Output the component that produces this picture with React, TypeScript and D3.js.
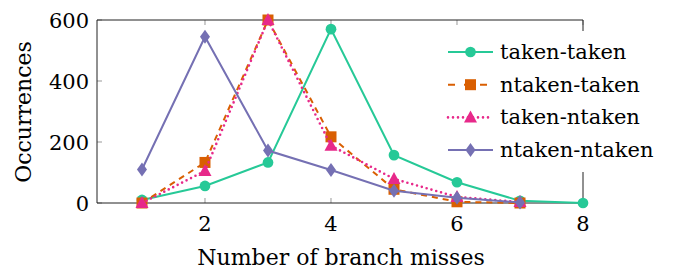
import React, { useEffect, useRef } from 'react';
import * as d3 from 'd3';

const misses = [1, 2, 3, 4, 5, 6, 7, 8];
const takenTaken = [10, 56, 133, 570, 157, 68, 7, 0];
const ntakenTaken = [0, 133, 600, 217, 45, 4, 0];
const takenNtaken = [0, 105, 600, 188, 79, 20, 3];
const ntakenNtaken = [110, 545, 172, 108, 40, 17, 2];
const seriesNames = ['taken-taken', 'ntaken-taken', 'taken-ntaken', 'ntaken-ntaken'];
const xTicks = [2, 4, 6, 8];
const yTicks = [0, 200, 400, 600];

const App = () => {
  const ref = useRef<SVGSVGElement>(null);

  useEffect(() => {
    const svg = d3.select(ref.current);
    svg.selectAll('*').remove();
    const font = "'DejaVu Serif', serif";

    const left = 97, right = 583, top = 20, bottom = 203;
    const x = d3.scaleLinear().domain([0.286, 8]).range([left, right]);
    const y = d3.scaleLinear().domain([0, 600]).range([bottom, top]);

    const styles = [
      { color: '#26c997', dash: null, marker: 'circle' },
      { color: '#d95f02', dash: '6,5', marker: 'square' },
      { color: '#e7298a', dash: '0,5', marker: 'triangle' },
      { color: '#7570b3', dash: null, marker: 'diamond' },
    ];
    const data = [takenTaken, ntakenTaken, takenNtaken, ntakenNtaken];

    const markerPath = (m: string) => {
      if (m === 'circle') return d3.symbol(d3.symbolCircle, 90)();
      if (m === 'square') return 'M-5.5,-5.5H5.5V5.5H-5.5Z';
      if (m === 'triangle') return 'M0,-7L6.5,5H-6.5Z';
      return 'M0,-7L5,0L0,7L-5,0Z';
    };

    // ticks point inward
    const g = svg.append('g');
    xTicks.forEach(t => {
      g.append('line').attr('x1', x(t)).attr('x2', x(t)).attr('y1', bottom).attr('y2', bottom - 5)
        .attr('stroke', '#999').attr('stroke-width', 1);
      g.append('line').attr('x1', x(t)).attr('x2', x(t)).attr('y1', top).attr('y2', top + 5)
        .attr('stroke', '#999').attr('stroke-width', 1);
      g.append('text').attr('x', x(t)).attr('y', 231).attr('text-anchor', 'middle')
        .attr('font-family', font).attr('font-size', 21).text(t);
    });
    yTicks.forEach(t => {
      g.append('line').attr('x1', left).attr('x2', left + 5).attr('y1', y(t)).attr('y2', y(t))
        .attr('stroke', '#999').attr('stroke-width', 1);
      g.append('text').attr('x', 89).attr('y', y(t) + 7.5).attr('text-anchor', 'end')
        .attr('font-family', font).attr('font-size', 21).text(t);
    });

    g.append('path')
      .attr('d', `M${left},${top}H${right}V${bottom}H${left}Z`)
      .attr('fill', 'none').attr('stroke', '#222').attr('stroke-width', 1);

    const line = d3.line<number>().x((d, i) => x(misses[i])).y(d => y(d));

    data.forEach((vals, k) => {
      const s = styles[k];
      const p = svg.append('path').datum(vals).attr('d', line)
        .attr('fill', 'none').attr('stroke', s.color).attr('stroke-width', 2);
      if (s.dash) p.attr('stroke-dasharray', s.dash);
      if (k === 2) p.attr('stroke-linecap', 'round').attr('stroke-width', 2.6);
      svg.append('g').selectAll('path').data(vals).enter().append('path')
        .attr('d', markerPath(s.marker))
        .attr('transform', (d, i) => `translate(${x(misses[i])},${y(d)})`)
        .attr('fill', s.color);
    });

    // legend
    const lg = svg.append('g');
    lg.append('rect').attr('x', 440).attr('y', 31).attr('width', 232).attr('height', 141).attr('fill', 'white');
    seriesNames.forEach((name, k) => {
      const s = styles[k];
      const yy = 52 + k * 32.7;
      const l = lg.append('line').attr('x1', 448).attr('x2', 493).attr('y1', yy).attr('y2', yy)
        .attr('stroke', s.color).attr('stroke-width', 2);
      if (s.dash) l.attr('stroke-dasharray', s.dash);
      if (k === 1) l.attr('stroke-dasharray', '7,9');
      if (k === 2) l.attr('stroke-linecap', 'round').attr('stroke-width', 2.6);
      lg.append('path').attr('d', markerPath(s.marker)).attr('transform', `translate(470.5,${yy})`).attr('fill', s.color);
      lg.append('text').attr('x', 500).attr('y', yy + 7).attr('font-family', font).attr('font-size', 21).text(name);
    });

    // axis titles
    svg.append('text').attr('x', 341).attr('y', 265).attr('text-anchor', 'middle')
      .attr('font-family', font).attr('font-size', 22).text('Number of branch misses');
    svg.append('text').attr('transform', 'translate(31,112) rotate(-90)').attr('text-anchor', 'middle')
      .attr('font-family', font).attr('font-size', 22).text('Occurrences');
  }, []);

  return <svg ref={ref} width={678} height={272} style={{ position: 'absolute', left: 0, top: 0 }} />;
};

export default App;
